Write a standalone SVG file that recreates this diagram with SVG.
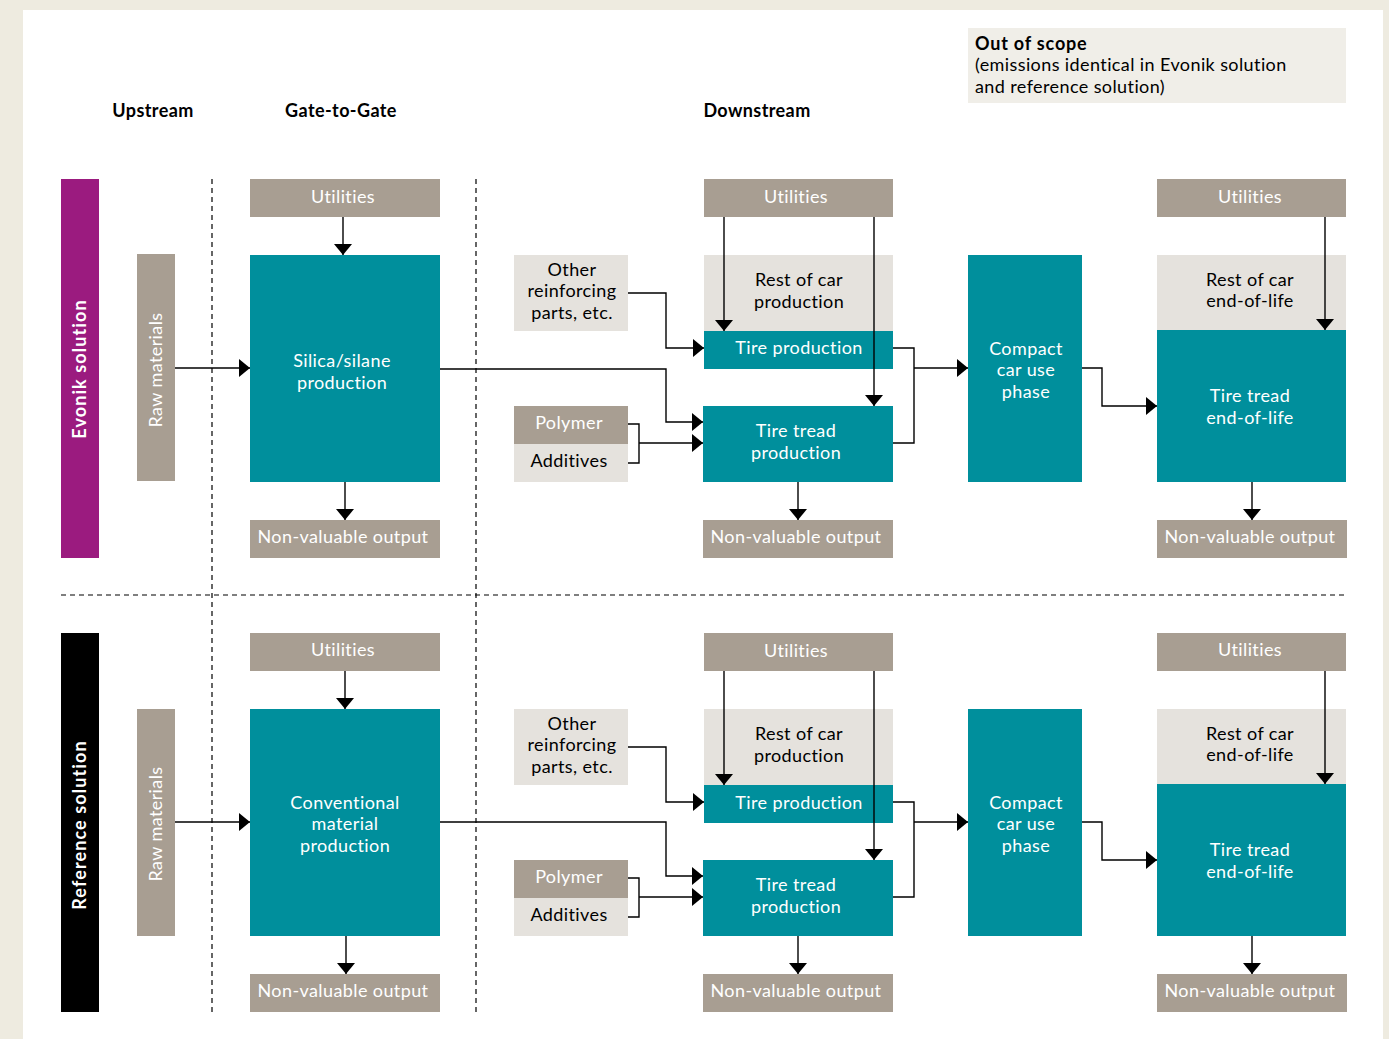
<svg xmlns="http://www.w3.org/2000/svg" width="1389" height="1039" viewBox="0 0 1389 1039">
<style>
.bg{fill:#EEEBE0}
.teal{fill:#008F9C}
.gray{fill:#A89E92}
.light{fill:#E5E2DD}
text{letter-spacing:0.4px}
.t{font-family:Lato,"Open Sans",sans-serif;font-size:18px;text-anchor:middle}
.w{fill:#ffffff}
.k{fill:#000000}
.h{font-family:Lato,"Open Sans",sans-serif;font-size:18px;font-weight:bold;fill:#000;text-anchor:middle}
.c{fill:none;stroke:#000;stroke-width:1.4}
.d{fill:none;stroke:#000;stroke-width:1.2;stroke-dasharray:5 4}
</style>
<defs>
<marker id="ah" viewBox="0 0 11 18" refX="11" refY="9" markerWidth="11" markerHeight="18" markerUnits="userSpaceOnUse" orient="auto">
<path d="M0,0 L11,9 L0,18 Z" fill="#000"/>
</marker>
</defs>
<rect class="bg" x="0" y="0" width="1389" height="1039"/>
<rect fill="#fff" x="23" y="10" width="1360" height="1029"/>

<g id="out-of-scope">
<rect x="968" y="28" width="378" height="75" fill="#F0EEE8"/>
<text x="975" y="50" font-family="Lato,'Open Sans',sans-serif" font-size="18" font-weight="bold" style="letter-spacing:0.8px">Out of scope</text>
<text x="975" y="71" font-family="Lato,'Open Sans',sans-serif" font-size="18">(emissions identical in Evonik solution</text>
<text x="975" y="93" font-family="Lato,'Open Sans',sans-serif" font-size="18">and reference solution)</text>
</g>

<g id="headers">
<text class="h" x="153" y="117">Upstream</text>
<text class="h" x="341" y="117">Gate-to-Gate</text>
<text class="h" x="757" y="117">Downstream</text>
</g>

<g id="separators">
<line class="d" x1="212" y1="179" x2="212" y2="1012"/>
<line class="d" x1="476" y1="179" x2="476" y2="1012"/>
<line class="d" x1="61" y1="595" x2="1346" y2="595"/>
</g>

<!-- Evonik section -->
<g id="evonik-label">
<rect x="61" y="179" width="38" height="379" fill="#9B1B7F"/>
<text transform="translate(86,369) rotate(-90)" font-family="Lato,'Open Sans',sans-serif" font-size="18" font-weight="bold" fill="#fff" text-anchor="middle" style="letter-spacing:1.1px">Evonik solution</text>
</g>
<g id="raw-1">
<rect class="gray" x="137" y="254" width="38" height="227"/>
<text class="t w" transform="translate(162,370) rotate(-90)">Raw materials</text>
</g>
<g id="util-g2g-1">
<rect class="gray" x="250" y="179" width="190" height="38"/>
<text class="t w" x="343" y="203">Utilities</text>
</g>
<g id="silica-1">
<rect class="teal" x="250" y="255" width="190" height="227"/>
<text class="t w" x="342" y="367">Silica/silane</text>
<text class="t w" x="342" y="389">production</text>
</g>
<g id="nvo-g2g-1">
<rect class="gray" x="250" y="520" width="190" height="38"/>
<text class="t w" x="343" y="543">Non-valuable output</text>
</g>
<g id="other-1">
<rect class="light" x="514" y="255" width="114" height="76"/>
<text class="t k" x="572" y="276">Other</text>
<text class="t k" x="572" y="297">reinforcing</text>
<text class="t k" x="572" y="319">parts, etc.</text>
</g>
<g id="polymer-1">
<rect class="gray" x="514" y="406" width="114" height="38"/>
<text class="t w" x="569" y="429">Polymer</text>
</g>
<g id="additives-1">
<rect class="light" x="514" y="444" width="114" height="38"/>
<text class="t k" x="569" y="467">Additives</text>
</g>
<g id="util-ds-1">
<rect class="gray" x="704" y="179" width="189" height="38"/>
<text class="t w" x="796" y="203">Utilities</text>
</g>
<g id="restcar-1">
<rect class="light" x="704" y="255" width="189" height="76"/>
<text class="t k" x="799" y="286">Rest of car</text>
<text class="t k" x="799" y="308">production</text>
</g>
<g id="tire-1">
<rect class="teal" x="704" y="331" width="189" height="38"/>
<text class="t w" x="799" y="354">Tire production</text>
</g>
<g id="tread-1">
<rect class="teal" x="703" y="406" width="190" height="76"/>
<text class="t w" x="796" y="437">Tire tread</text>
<text class="t w" x="796" y="459">production</text>
</g>
<g id="nvo-ds-1">
<rect class="gray" x="703" y="520" width="190" height="38"/>
<text class="t w" x="796" y="543">Non-valuable output</text>
</g>
<g id="compact-1">
<rect class="teal" x="968" y="255" width="114" height="227"/>
<text class="t w" x="1026" y="355">Compact</text>
<text class="t w" x="1026" y="376">car use</text>
<text class="t w" x="1026" y="398">phase</text>
</g>
<g id="util-eol-1">
<rect class="gray" x="1157" y="179" width="189" height="38"/>
<text class="t w" x="1250" y="203">Utilities</text>
</g>
<g id="restcar-eol-1">
<rect class="light" x="1157" y="255" width="189" height="75"/>
<text class="t k" x="1250" y="286">Rest of car</text>
<text class="t k" x="1250" y="307">end-of-life</text>
</g>
<g id="tread-eol-1">
<rect class="teal" x="1157" y="330" width="189" height="152"/>
<text class="t w" x="1250" y="402">Tire tread</text>
<text class="t w" x="1250" y="424">end-of-life</text>
</g>
<g id="nvo-eol-1">
<rect class="gray" x="1157" y="520" width="190" height="38"/>
<text class="t w" x="1250" y="543">Non-valuable output</text>
</g>

<!-- Reference section -->
<g id="reference-label">
<rect x="61" y="633" width="38" height="379" fill="#000"/>
<text transform="translate(86,825) rotate(-90)" font-family="Lato,'Open Sans',sans-serif" font-size="18" font-weight="bold" fill="#fff" text-anchor="middle" style="letter-spacing:1.1px">Reference solution</text>
</g>
<g id="raw-2">
<rect class="gray" x="137" y="709" width="38" height="227"/>
<text class="t w" transform="translate(162,824) rotate(-90)">Raw materials</text>
</g>
<g id="util-g2g-2">
<rect class="gray" x="250" y="633" width="190" height="38"/>
<text class="t w" x="343" y="656">Utilities</text>
</g>
<g id="conventional-2">
<rect class="teal" x="250" y="709" width="190" height="227"/>
<text class="t w" x="345" y="809">Conventional</text>
<text class="t w" x="345" y="830">material</text>
<text class="t w" x="345" y="852">production</text>
</g>
<g id="nvo-g2g-2">
<rect class="gray" x="250" y="974" width="190" height="38"/>
<text class="t w" x="343" y="997">Non-valuable output</text>
</g>
<g id="other-2">
<rect class="light" x="514" y="709" width="114" height="76"/>
<text class="t k" x="572" y="730">Other</text>
<text class="t k" x="572" y="751">reinforcing</text>
<text class="t k" x="572" y="773">parts, etc.</text>
</g>
<g id="polymer-2">
<rect class="gray" x="514" y="860" width="114" height="38"/>
<text class="t w" x="569" y="883">Polymer</text>
</g>
<g id="additives-2">
<rect class="light" x="514" y="898" width="114" height="38"/>
<text class="t k" x="569" y="921">Additives</text>
</g>
<g id="util-ds-2">
<rect class="gray" x="704" y="633" width="189" height="38"/>
<text class="t w" x="796" y="657">Utilities</text>
</g>
<g id="restcar-2">
<rect class="light" x="704" y="709" width="189" height="76"/>
<text class="t k" x="799" y="740">Rest of car</text>
<text class="t k" x="799" y="762">production</text>
</g>
<g id="tire-2">
<rect class="teal" x="704" y="785" width="189" height="38"/>
<text class="t w" x="799" y="809">Tire production</text>
</g>
<g id="tread-2">
<rect class="teal" x="703" y="860" width="190" height="76"/>
<text class="t w" x="796" y="891">Tire tread</text>
<text class="t w" x="796" y="913">production</text>
</g>
<g id="nvo-ds-2">
<rect class="gray" x="703" y="974" width="190" height="38"/>
<text class="t w" x="796" y="997">Non-valuable output</text>
</g>
<g id="compact-2">
<rect class="teal" x="968" y="709" width="114" height="227"/>
<text class="t w" x="1026" y="809">Compact</text>
<text class="t w" x="1026" y="830">car use</text>
<text class="t w" x="1026" y="852">phase</text>
</g>
<g id="util-eol-2">
<rect class="gray" x="1157" y="633" width="189" height="38"/>
<text class="t w" x="1250" y="656">Utilities</text>
</g>
<g id="restcar-eol-2">
<rect class="light" x="1157" y="709" width="189" height="75"/>
<text class="t k" x="1250" y="740">Rest of car</text>
<text class="t k" x="1250" y="761">end-of-life</text>
</g>
<g id="tread-eol-2">
<rect class="teal" x="1157" y="784" width="189" height="152"/>
<text class="t w" x="1250" y="856">Tire tread</text>
<text class="t w" x="1250" y="878">end-of-life</text>
</g>
<g id="nvo-eol-2">
<rect class="gray" x="1157" y="974" width="190" height="38"/>
<text class="t w" x="1250" y="997">Non-valuable output</text>
</g>

<g id="connectors">
<!-- top -->
<path class="c" d="M343,217 V255" marker-end="url(#ah)"/>
<path class="c" d="M175,368 H250" marker-end="url(#ah)"/>
<path class="c" d="M345,482 V520" marker-end="url(#ah)"/>
<path class="c" d="M440,369 H666 V422 H703" marker-end="url(#ah)"/>
<path class="c" d="M628,293 H666 V348 H704" marker-end="url(#ah)"/>
<path class="c" d="M628,424 H639 V463 H628"/>
<path class="c" d="M639,443 H703" marker-end="url(#ah)"/>
<path class="c" d="M724,217 V331" marker-end="url(#ah)"/>
<path class="c" d="M874,217 V406" marker-end="url(#ah)"/>
<path class="c" d="M798,482 V520" marker-end="url(#ah)"/>
<path class="c" d="M893,348 H914 V443 H893"/>
<path class="c" d="M914,368 H968" marker-end="url(#ah)"/>
<path class="c" d="M1082,368 H1102 V406 H1157" marker-end="url(#ah)"/>
<path class="c" d="M1325,217 V330" marker-end="url(#ah)"/>
<path class="c" d="M1252,482 V520" marker-end="url(#ah)"/>
<!-- bottom -->
<path class="c" d="M345,671 V709" marker-end="url(#ah)"/>
<path class="c" d="M175,822 H250" marker-end="url(#ah)"/>
<path class="c" d="M346,936 V974" marker-end="url(#ah)"/>
<path class="c" d="M440,822 H666 V876 H703" marker-end="url(#ah)"/>
<path class="c" d="M628,747 H666 V802 H704" marker-end="url(#ah)"/>
<path class="c" d="M628,878 H639 V917 H628"/>
<path class="c" d="M639,897 H703" marker-end="url(#ah)"/>
<path class="c" d="M724,671 V785" marker-end="url(#ah)"/>
<path class="c" d="M874,671 V860" marker-end="url(#ah)"/>
<path class="c" d="M798,936 V974" marker-end="url(#ah)"/>
<path class="c" d="M893,802 H914 V897 H893"/>
<path class="c" d="M914,822 H968" marker-end="url(#ah)"/>
<path class="c" d="M1082,822 H1102 V860 H1157" marker-end="url(#ah)"/>
<path class="c" d="M1325,671 V784" marker-end="url(#ah)"/>
<path class="c" d="M1252,936 V974" marker-end="url(#ah)"/>
</g>
</svg>
